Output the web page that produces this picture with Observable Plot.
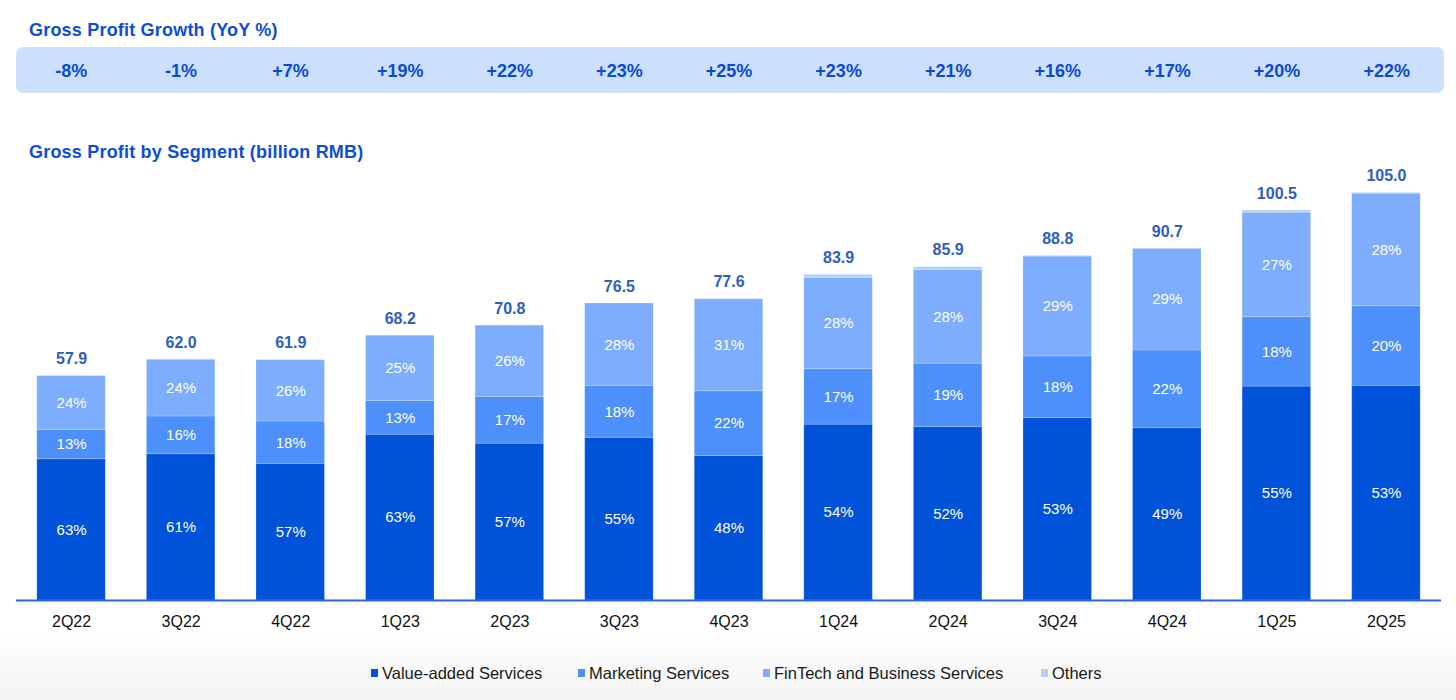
<!DOCTYPE html>
<html>
<head>
<meta charset="utf-8">
<script src="https://cdn.jsdelivr.net/npm/d3@7"></script>
<script src="https://cdn.jsdelivr.net/npm/@observablehq/plot@0.6"></script>
<style>
  html, body { margin: 0; padding: 0; background: #ffffff; }
  body { width: 1456px; height: 700px; position: relative; overflow: hidden; font-family: "Liberation Sans", Arial, sans-serif; }
  .title { position: absolute; left: 29px; font-size: 18px; line-height: 18px; font-weight: bold; color: #0c4ed6; letter-spacing: 0.2px; white-space: nowrap; }
  .band { position: absolute; left: 16px; top: 47px; width: 1428px; height: 46px; background: #cce0fe; border-radius: 7px; }
  .fade { position: absolute; left: 0; top: 632px; width: 1456px; height: 68px; background: linear-gradient(to bottom, #ffffff, #f3f3f3); }
  .leg { position: absolute; top: 664px; height: 18px; display: flex; align-items: center; font-size: 16.5px; color: #1a1a1a; white-space: nowrap; }
  .leg span.sw { display: inline-block; width: 7px; height: 8px; margin-right: 4px; }
  #yoy, #chart { position: absolute; left: 0; }
</style>
</head>
<body>
<div class="fade"></div>
<div class="title" style="top:21px">Gross Profit Growth (YoY %)</div>
<div class="band"></div>
<div id="yoy" style="top:47px"></div>
<div class="title" style="top:143px">Gross Profit by Segment (billion RMB)</div>
<div id="chart" style="top:170px"></div>
<div id="legend"></div>
<script>
const quarters = ["2Q22","3Q22","4Q22","1Q23","2Q23","3Q23","4Q23","1Q24","2Q24","3Q24","4Q24","1Q25","2Q25"];
const yoyLabels = ["-8%","-1%","+7%","+19%","+22%","+23%","+25%","+23%","+21%","+16%","+17%","+20%","+22%"];
const totals = [57.9, 62.0, 61.9, 68.2, 70.8, 76.5, 77.6, 83.9, 85.9, 88.8, 90.7, 100.5, 105.0];
const segments = ["Value-added Services","Marketing Services","FinTech and Business Services","Others"];
const segColors = ["#0052d9","#4d8ffb","#7dadfc","#b7d1f5"];
// segment gross profit, billion RMB
const vas       = [36.4, 37.7, 35.2, 42.7, 40.4, 41.9, 37.2, 45.3, 44.7, 47.0, 44.4, 55.1, 55.3];
const marketing = [ 7.5,  9.7, 10.9,  8.7, 12.0, 13.4, 16.7, 14.3, 16.3, 15.9, 20.0, 17.9, 20.5];
const fintech   = [13.9, 14.6, 15.8, 16.8, 18.4, 21.2, 23.7, 23.5, 24.1, 25.7, 26.2, 26.9, 29.0];
const others    = [ 0.1,  0.0,  0.0,  0.0,  0.0,  0.0,  0.0,  0.8,  0.8,  0.2,  0.1,  0.6,  0.2];
// share labels printed inside the bars
const vasPct = ["63%","61%","57%","63%","57%","55%","48%","54%","52%","53%","49%","55%","53%"];
const mktPct = ["13%","16%","18%","13%","17%","18%","22%","17%","19%","18%","22%","18%","20%"];
const finPct = ["24%","24%","26%","25%","26%","28%","31%","28%","28%","29%","29%","27%","28%"];

const series = [vas, marketing, fintech, others];
const labels = [vasPct, mktPct, finPct, null];
const rows = [];
quarters.forEach((q, i) => {
  segments.forEach((s, j) => {
    rows.push({quarter: q, segment: s, value: series[j][i], label: labels[j] ? labels[j][i] : null});
  });
});
const totalRows = quarters.map((q, i) => ({quarter: q, total: totals[i]}));

const xOpts = {domain: quarters, paddingInner: 0.375, paddingOuter: 0.19, round: false};
const font = "Liberation Sans, Arial, sans-serif";

const chart = Plot.plot({
  width: 1456, height: 530,
  marginLeft: 16, marginRight: 15, marginTop: 3, marginBottom: 100,
  style: {fontFamily: font, background: "transparent", overflow: "visible"},
  x: xOpts,
  y: {domain: [0, 110], axis: null},
  color: {domain: segments, range: segColors},
  marks: [
    Plot.barY(rows, {x: "quarter", y: "value", fill: "segment", z: "segment",
      stroke: "#ffffff", strokeOpacity: 0.18, strokeWidth: 1}),
    Plot.text(rows.filter(d => d.label), Plot.stackY({
      x: "quarter", y: "value", z: "segment", text: "label",
      fill: "#ffffff", fontSize: 15
    })),
    Plot.text(totalRows, {x: "quarter", y: "total", text: d => d.total.toFixed(1), dy: -17,
      fontSize: 16, fontWeight: "bold", fill: "#2e5ebe"}),
    Plot.ruleY([0], {stroke: "#2a67d6", strokeWidth: 2}),
    Plot.axisX({tickSize: 0, tickPadding: 15, fontSize: 16, fill: "#111111", label: null})
  ]
});
document.getElementById("chart").appendChild(chart);

const yoyPlot = Plot.plot({
  width: 1456, height: 46,
  marginLeft: 16, marginRight: 15, marginTop: 0, marginBottom: 0,
  style: {fontFamily: font, background: "transparent"},
  x: {...xOpts, axis: null},
  marks: [
    Plot.text(quarters, {x: d => d, text: (d, i) => yoyLabels[i], frameAnchor: "middle", dy: 1,
      fontSize: 18, fontWeight: "bold", fill: "#0b4bd4"})
  ]
});
document.getElementById("yoy").appendChild(yoyPlot);

const legendX = [371, 578, 763, 1041];
const legend = document.getElementById("legend");
segments.forEach((s, j) => {
  const item = document.createElement("div");
  item.className = "leg";
  item.style.left = legendX[j] + "px";
  item.innerHTML = `<span class="sw" style="background:${segColors[j]}"></span>${s}`;
  legend.appendChild(item);
});
</script>
</body>
</html>
